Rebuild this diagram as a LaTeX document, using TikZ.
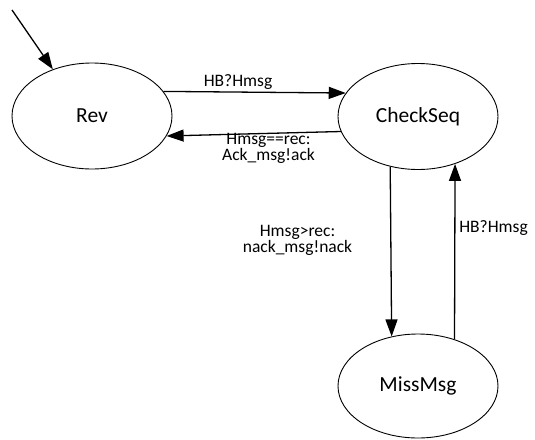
\documentclass[tikz,border=0pt]{standalone}
\usepackage{fontspec}
\setmainfont{Carlito}
\usetikzlibrary{shapes.geometric,arrows.meta}

\begin{document}
\begin{tikzpicture}[x=1pt,y=-1pt,
  state/.style={ellipse,draw,line width=0.9pt,minimum width=160pt,minimum height=106pt,
    inner sep=0pt,font=\fontsize{21.5}{24}\selectfont},
  trans/.style={line width=1.3pt,-{Triangle[length=17pt,width=12pt]}},
  lbl/.style={align=center,inner sep=0pt,font=\fontsize{17.5}{13.5}\selectfont}]
  \useasboundingbox (0,0) rectangle (535,439);

  % states
  \node[state] (rev) at (92,116) {Rev};
  \node[state] (check) at (418,116.5) {CheckSeq};
  \node[state,minimum height=104pt] (miss) at (418,386) {MissMsg};

  % initial transition
  \coordinate (init) at (12,10);
  \draw[trans] (init) -- (rev.130.3);

  % transitions between Rev and CheckSeq
  \draw[trans] (rev.19.7) -- (check.162.9);
  \draw[trans] (check.191.2) -- (rev.-15.4);

  % transitions between CheckSeq and MissMsg
  \draw[trans] (check.241.3) -- (miss.118.9);
  \draw[trans] (miss.52.2) -- (check.-52.5);

  % labels
  \node[lbl] (l1) at (238,82) {HB?Hmsg};
  \node[lbl] (l2) at (268.5,148.5) {Hmsg==rec:\\Ack\_msg!ack};
  \node[lbl] (l3) at (297.5,240) {Hmsg>rec:\\nack\_msg!nack};
  \node[lbl] (l4) at (493.5,228) {HB?Hmsg};
\end{tikzpicture}
\end{document}
